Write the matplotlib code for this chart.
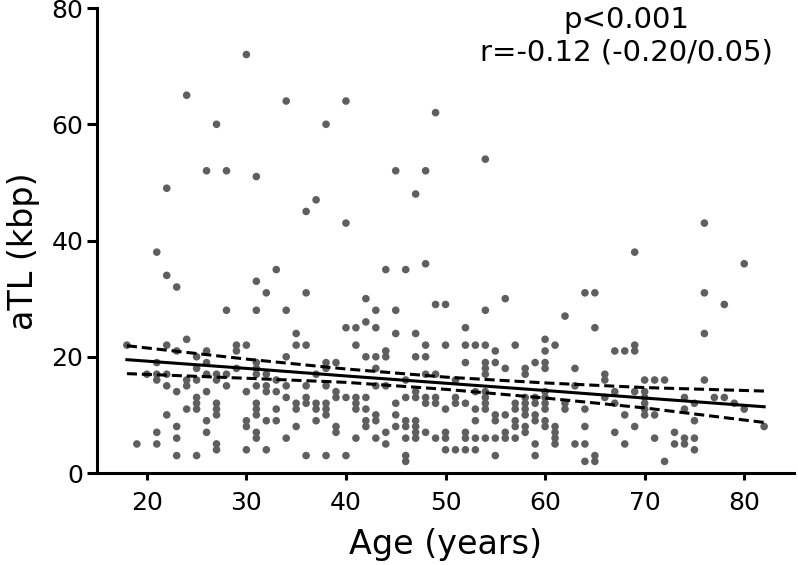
import matplotlib.pyplot as plt

# points (age in years, aTL in kbp)
pts = [
    (30, 72), (24, 65), (34, 64), (40, 64), (49, 62), (27, 60), (38, 60), (26, 52), (28, 52),
    (31, 51), (45, 52), (48, 52), (22, 49), (47, 48), (37, 47), (36, 45), (40, 43), (21, 38),
    (22, 34), (23, 32), (33, 35), (31, 33), (44, 35), (46, 35), (48, 36),
    (54, 54), (76, 43), (69, 38), (80, 36),
    (18, 22), (22, 22), (24, 23), (23, 21), (21, 19), (25, 20), (25, 18), (20, 17), (21, 17),
    (22, 17), (21, 16), (22, 15), (24, 16), (25, 16), (24, 15), (23, 14), (25, 13), (25, 12),
    (25, 11), (24, 11), (22, 10), (23, 8), (21, 7), (23, 6), (19, 5), (21, 5), (23, 3), (25, 3),
    (32, 31), (36, 31), (28, 28), (31, 28), (34, 28), (35, 24), (35, 22), (36, 22), (29, 22),
    (30, 22), (29, 21), (26, 21), (34, 20), (31, 19), (31, 18), (26, 19), (26, 17), (27, 17),
    (28, 17), (29, 18), (31, 17), (32, 17), (27, 16), (28, 15), (30, 14), (31, 15), (32, 15),
    (32, 14), (33, 16), (33, 14), (34, 15), (34, 13), (35, 12), (35, 11), (36, 15), (36, 13),
    (36, 12), (26, 14), (27, 12), (27, 11), (27, 10), (31, 12), (31, 11), (31, 10), (33, 11),
    (30, 9), (30, 8), (32, 9), (33, 9), (26, 9), (26, 7), (35, 8), (31, 7), (31, 6), (34, 6),
    (27, 5), (27, 4), (30, 4), (32, 4), (36, 3),
    (42, 30), (43, 28), (45, 28), (40, 25), (41, 25), (42, 26), (43, 25), (45, 24), (47, 24),
    (41, 22), (42, 20), (43, 20), (44, 21), (44, 20), (47, 20), (38, 19), (39, 19), (37, 17),
    (38, 18), (43, 18), (38, 15), (39, 14), (39, 13), (40, 13), (41, 13), (41, 12), (41, 11),
    (42, 13), (42, 11), (43, 15), (44, 15), (45, 12), (45, 10), (45, 8), (46, 13), (46, 16),
    (47, 14), (47, 13), (37, 12), (37, 11), (37, 9), (38, 12), (38, 11), (38, 10), (39, 8),
    (39, 7), (41, 6), (42, 9), (42, 8), (43, 10), (43, 9), (43, 6), (44, 7), (44, 5), (46, 9),
    (46, 8), (46, 6), (47, 9), (47, 8), (47, 7), (47, 6), (38, 3), (40, 3), (46, 3), (46, 2),
    (49, 29), (50, 29), (56, 30), (54, 28), (52, 25), (48, 22), (50, 22), (52, 22), (53, 22),
    (54, 22), (57, 22), (48, 20), (55, 21), (52, 19), (54, 19), (54, 18), (54, 17), (55, 19),
    (56, 18), (58, 18), (58, 17), (48, 17), (49, 17), (51, 16), (53, 14), (54, 14), (54, 13),
    (54, 12), (54, 11), (48, 13), (48, 12), (49, 13), (49, 12), (51, 13), (51, 12), (52, 12),
    (50, 11), (53, 11), (53, 9), (55, 10), (55, 9), (56, 10), (57, 12), (57, 11), (57, 9),
    (57, 8), (58, 13), (58, 12), (58, 11), (58, 10), (58, 8), (58, 7), (48, 7), (49, 6),
    (50, 7), (50, 6), (52, 7), (52, 6), (53, 6), (54, 6), (55, 6), (56, 7), (56, 6), (57, 6),
    (50, 4), (51, 4), (52, 4), (53, 4), (55, 3),
    (64, 31), (65, 31), (62, 27), (65, 25), (60, 23), (61, 22), (60, 21), (67, 21), (68, 21),
    (69, 22), (69, 21), (59, 19), (60, 19), (60, 18), (63, 18), (66, 17), (66, 16), (70, 16),
    (63, 15), (67, 14), (69, 14), (70, 14), (59, 13), (59, 12), (60, 14), (60, 13), (60, 12),
    (60, 11), (62, 12), (62, 11), (66, 13), (67, 12), (70, 13), (70, 12), (70, 11), (70, 10),
    (64, 11), (59, 10), (59, 9), (60, 9), (60, 8), (61, 8), (61, 7), (61, 6), (61, 5), (64, 8),
    (68, 10), (69, 8), (67, 7), (59, 5), (59, 3), (63, 5), (64, 5), (68, 5), (64, 2), (65, 3),
    (65, 2),
    (76, 31), (78, 29), (76, 24), (71, 16), (72, 16), (76, 16), (74, 13), (77, 13), (78, 13),
    (75, 12), (79, 12), (74, 11), (80, 11), (71, 10), (75, 9), (82, 8), (71, 6), (73, 7),
    (73, 5), (74, 6), (74, 5), (75, 6), (75, 4), (72, 2),
]
age = [p[0] for p in pts]
atl = [p[1] for p in pts]

# regression line and 95% CI, read at a few ages
fit_age = [18, 30, 40, 50, 60, 70, 82]
fit_mid = [19.5, 18.0, 16.7, 15.45, 14.2, 12.9, 11.4]
fit_hi = [21.9, 19.6, 17.9, 16.5, 15.5, 14.7, 14.1]
fit_lo = [17.1, 16.3, 15.6, 14.4, 12.9, 11.2, 8.7]

plt.rcParams['font.family'] = 'DejaVu Sans'

fig = plt.figure(figsize=(7.98, 5.65), dpi=100)
ax = fig.add_axes([0.1216, 0.1628, 0.8734, 0.823])

ax.scatter(age, atl, s=30, color='#5f5f5f', edgecolors='none', zorder=2)
ax.plot(fit_age, fit_mid, color='black', lw=2.2, zorder=3)
ax.plot(fit_age, fit_hi, color='black', lw=2.2, ls=(0, (3.3, 1.6)), zorder=3)
ax.plot(fit_age, fit_lo, color='black', lw=2.2, ls=(0, (3.3, 1.6)), zorder=3)

ax.set_xlim(15, 85)
ax.set_ylim(0, 80)
ax.set_xticks([20, 30, 40, 50, 60, 70, 80])
ax.set_yticks([0, 20, 40, 60, 80])

for s in ['top', 'right']:
    ax.spines[s].set_visible(False)
for s in ['left', 'bottom']:
    ax.spines[s].set_linewidth(2.2)
ax.tick_params(width=2.2, labelsize=18)
ax.tick_params(axis='x', length=5, pad=8)
ax.tick_params(axis='y', length=7, pad=3)

ax.set_xlabel("Age (years)", fontsize=24, labelpad=9)
ax.set_ylabel("aTL (kbp)", fontsize=24)
ax.yaxis.set_label_coords(-0.082, 0.477)

ax.text(0.76, 1.005, "p<0.001\nr=-0.12 (-0.20/0.05)", transform=ax.transAxes,
        ha='center', va='top', fontsize=21, linespacing=1.2)

plt.savefig("out.png", dpi=100)
